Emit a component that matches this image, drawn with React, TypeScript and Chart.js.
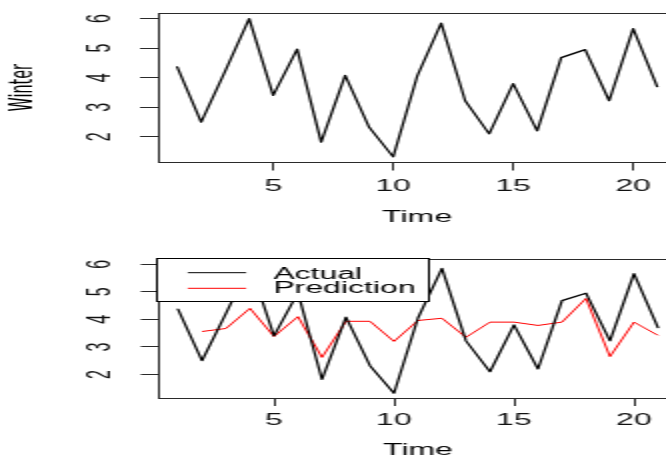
import React, { useEffect, useRef } from "react";
import { Chart, registerables } from "chart.js";

Chart.register(...registerables);

// ---- data ----
const time = [1, 2, 3, 4, 5, 6, 7, 8, 9, 10, 11, 12, 13, 14, 15, 16, 17, 18, 19, 20, 21];
const actual = [4.37, 2.5, 4.22, 6.0, 3.4, 4.97, 1.82, 4.08, 2.32, 1.32, 4.05, 5.85, 3.22, 2.1, 3.8, 2.2, 4.68, 4.95, 3.22, 5.66, 3.7];
const prediction = [null, 3.56, 3.67, 4.4, 3.38, 4.1, 2.62, 3.93, 3.93, 3.2, 3.96, 4.04, 3.35, 3.9, 3.9, 3.78, 3.9, 4.76, 2.65, 3.9, 3.42];
const seriesNames = ["Actual", "Prediction"];
const seriesColors = ["#000000", "#ff0000"];
const xRange = [0.2, 21.8];
const yRange = [1.13, 6.19];
const xTickStep = 5;
const yTickStep = 1;
const topYTitle = "Winter";
const xTitle = "Time";

// ---- styling ----
const SANS = "'Liberation Sans', Arial, Helvetica, sans-serif";
const NARROW = "'Liberation Sans Narrow', 'Arial Narrow', 'DejaVu Sans Condensed', sans-serif";
const BW = 350; // canvas bitmap width, shown stretched to 700 css px
const AXIS = "#2a2a2a";

type Spec = {
  canvasTop: number;
  canvasH: number;
  left: number;
  right: number;
  top: number;
  bottom: number;
  xTickLen: number;
  xTickPad: number;
  yTickLen: number;
  yTickPad: number;
  xTitlePadBottom: number;
  yTitle?: string;
  legend: boolean;
};

const topSpec: Spec = {
  canvasTop: 0, canvasH: 229, left: 79, right: 338.2, top: 13, bottom: 162.5,
  xTickLen: 8, xTickPad: 6.1, yTickLen: 9, yTickPad: 15.2, xTitlePadBottom: 1.9,
  yTitle: topYTitle, legend: false,
};
const bottomSpec: Spec = {
  canvasTop: 229, canvasH: 240, left: 79.4, right: 338.6, top: 30, bottom: 169.5,
  xTickLen: 7.5, xTickPad: 4.7, yTickLen: 9, yTickPad: 15.6, xTitlePadBottom: 8.9,
  legend: true,
};

const zeroPad = (s: any) => {
  s.paddingTop = 0;
  s.paddingBottom = 0;
  s.paddingLeft = 0;
  s.paddingRight = 0;
};

const framePlugin = {
  id: "frame",
  afterDatasetsDraw(chart: any) {
    const { ctx, chartArea: a } = chart;
    ctx.save();
    ctx.strokeStyle = AXIS;
    ctx.lineWidth = 1;
    const t = Math.round(a.top) + 0.5;
    const r = Math.round(a.right) - 0.5;
    ctx.beginPath();
    ctx.moveTo(a.left, t);
    ctx.lineTo(r, t);
    ctx.lineTo(r, a.bottom);
    ctx.stroke();
    ctx.restore();
  },
};

const boxLegendPlugin = {
  id: "boxLegend",
  afterDatasetsDraw(chart: any) {
    const { ctx, chartArea: a } = chart;
    const x0 = Math.round(a.left) - 0.5;
    const y0 = Math.round(a.top) - 0.5;
    const w = 136;
    const h = 43;
    ctx.save();
    ctx.fillStyle = "#ffffff";
    ctx.fillRect(x0, y0, w, h);
    ctx.strokeStyle = "#000000";
    ctx.lineWidth = 1;
    ctx.strokeRect(x0, y0, w, h);
    ctx.font = `16px ${SANS}`;
    ctx.textAlign = "left";
    ctx.textBaseline = "alphabetic";
    chart.data.datasets.forEach((ds: any, i: number) => {
      const ly = a.top + 13.7 + i * 15.6;
      ctx.strokeStyle = ds.borderColor;
      ctx.lineWidth = 1;
      ctx.beginPath();
      ctx.moveTo(a.left + 14.5, ly);
      ctx.lineTo(a.left + 43.7, ly);
      ctx.stroke();
      ctx.fillStyle = "#000000";
      ctx.fillText(ds.label, a.left + 57.3, a.top + 20.3 + i * 14);
    });
    ctx.restore();
  },
};

function buildConfig(spec: Spec, datasets: any[]): any {
  return {
    type: "line",
    data: { datasets },
    plugins: spec.legend ? [framePlugin, boxLegendPlugin] : [framePlugin],
    options: {
      animation: false,
      responsive: false,
      devicePixelRatio: 1,
      events: [],
      layout: {
        autoPadding: false,
        padding: { left: 0, top: spec.top, right: BW - spec.right, bottom: 0 },
      },
      plugins: { legend: { display: false }, tooltip: { enabled: false } },
      elements: { point: { radius: 0 }, line: { tension: 0 } },
      scales: {
        x: {
          type: "linear",
          min: xRange[0],
          max: xRange[1],
          afterFit: (s: any) => {
            s.height = spec.canvasH - spec.bottom;
            zeroPad(s);
          },
          ticks: {
            stepSize: xTickStep,
            includeBounds: false,
            autoSkip: false,
            maxRotation: 0,
            minRotation: 0,
            padding: spec.xTickPad,
            color: "#111111",
            font: { family: SANS, size: 16 },
          },
          grid: { drawOnChartArea: false, drawTicks: true, tickLength: spec.xTickLen, color: AXIS },
          border: { display: true, color: AXIS, width: 1 },
          title: {
            display: true,
            text: xTitle,
            color: "#000000",
            font: { family: SANS, size: 16 },
            padding: { top: 0, bottom: spec.xTitlePadBottom },
          },
        },
        y: {
          type: "linear",
          min: yRange[0],
          max: yRange[1],
          afterFit: (s: any) => {
            s.width = spec.left;
            zeroPad(s);
          },
          ticks: {
            stepSize: yTickStep,
            includeBounds: false,
            minRotation: 90,
            maxRotation: 90,
            crossAlign: "center",
            padding: spec.yTickPad,
            color: "#111111",
            font: { family: SANS, size: 16 },
          },
          grid: { drawOnChartArea: false, drawTicks: true, tickLength: spec.yTickLen, color: AXIS },
          border: { display: true, color: AXIS, width: 1 },
          title: {
            display: !!spec.yTitle,
            text: spec.yTitle || "",
            color: "#000000",
            font: { family: NARROW, size: 16 },
            padding: { top: 2.65, bottom: 0 },
          },
        },
      },
    },
  };
}

const toPoints = (ys: (number | null)[]) => time.map((t, i) => ({ x: t, y: ys[i] }));

export default function App() {
  const topRef = useRef<HTMLCanvasElement>(null);
  const botRef = useRef<HTMLCanvasElement>(null);

  useEffect(() => {
    const topChart = new Chart(
      topRef.current as HTMLCanvasElement,
      buildConfig(topSpec, [
        {
          label: seriesNames[0],
          data: toPoints(actual),
          borderColor: seriesColors[0],
          borderWidth: 1.25,
          borderJoinStyle: "round",
          borderCapStyle: "round",
        },
      ])
    );
    const botChart = new Chart(
      botRef.current as HTMLCanvasElement,
      buildConfig(bottomSpec, [
        {
          label: seriesNames[0],
          data: toPoints(actual),
          borderColor: seriesColors[0],
          borderWidth: 1.25,
          borderJoinStyle: "round",
          borderCapStyle: "round",
        },
        {
          label: seriesNames[1],
          data: toPoints(prediction),
          borderColor: seriesColors[1],
          borderWidth: 1,
          borderJoinStyle: "round",
        },
      ])
    );
    return () => {
      topChart.destroy();
      botChart.destroy();
    };
  }, []);

  const canvasStyle = (s: Spec): React.CSSProperties => ({
    position: "absolute",
    left: 0,
    top: s.canvasTop,
    width: BW * 2,
    height: s.canvasH,
  });

  return (
    <div
      style={{
        position: "fixed",
        left: 0,
        top: 0,
        width: 666,
        height: 458,
        overflow: "hidden",
        background: "#ffffff",
      }}
    >
      <canvas ref={topRef} width={BW} height={topSpec.canvasH} style={canvasStyle(topSpec)} />
      <canvas ref={botRef} width={BW} height={bottomSpec.canvasH} style={canvasStyle(bottomSpec)} />
    </div>
  );
}
